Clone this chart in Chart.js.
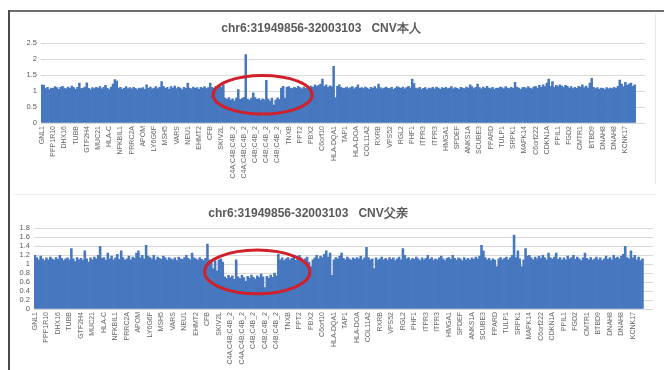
<!DOCTYPE html>
<html>
<head>
<meta charset="utf-8">
<script src="https://cdn.jsdelivr.net/npm/chart.js@4.4.1/dist/chart.umd.min.js"></script>
<style>
  html, body { margin: 0; padding: 0; background: #fff; }
  body { width: 664px; height: 370px; position: relative; overflow: hidden; }
  canvas { position: absolute; }
  .line { position: absolute; }
</style>
</head>
<body>
<canvas id="chartSelf" width="648" height="172" style="left:-3px;top:14px;"></canvas>
<canvas id="chartFather" width="690" height="174" style="left:-37px;top:196px;"></canvas>
<div class="line" style="left:8px;top:10px;width:656px;border-top:2px solid #6e6e6e;"></div>
<div class="line" style="left:8px;top:10px;height:360px;border-left:2px solid #4a4a4a;"></div>
<div class="line" style="left:14px;top:194px;width:642px;border-top:1px solid #ececec;"></div>
<div class="line" style="left:655px;top:14px;height:170px;border-left:1px solid #e6e6e6;"></div>
<script>
// gene names shown under the x axis, one label every 6 probes
const genes = ["GNL1", "PPP1R10", "DHX16", "TUBB", "GTF2H4", "MUC21", "HLA-C", "NFKBIL1", "PRRC2A",
  "APOM", "LY6G6F", "MSH5", "VARS", "NEU1", "EHMT2", "CFB", "SKIV2L", "C4A;C4B;C4B_2", "C4A;C4B;C4B_2",
  "C4B;C4B_2", "C4B;C4B_2", "C4B;C4B_2", "TNXB", "PPT2", "PBX2", "C6orf10", "HLA-DQA1", "TAP1", "HLA-DOA",
  "COL11A2", "RXRB", "VPS52", "RGL2", "PHF1", "ITPR3", "ITPR3", "HMGA1", "SPDEF", "ANKS1A", "SCUBE3",
  "PPARD", "TULP1", "SRPK1", "MAPK14", "C6orf222", "CDKN1A", "PPIL1", "FGD2", "CMTR1", "BTBD9",
  "DNAH8", "DNAH8", "KCNK17"];
const probesPerGene = 6;

// CNV 本人
const cnvSelf = [
  1.20, 1.18, 1.08, 1.12, 1.05, 1.10,  1.09, 1.14, 1.11, 1.06, 1.12, 1.15,
  1.10, 1.07, 1.13, 1.09, 1.16, 1.11,  1.06, 1.12, 1.25, 1.08, 1.10, 1.13,
  1.26, 1.09, 1.05, 1.11, 1.08, 1.12,  1.10, 1.14, 1.07, 1.12, 1.18, 1.09,
  1.05, 1.13, 1.22, 1.36, 1.32, 1.10,  1.12, 1.06, 1.09, 1.14, 1.08, 1.11,
  1.07, 1.12, 1.09, 1.05, 1.10, 1.08,  1.11, 1.06, 1.20, 1.09, 1.13, 1.07,
  1.10, 1.14, 1.08, 1.12, 1.30, 1.15,  1.09, 1.12, 1.06, 1.14, 1.10, 1.16,
  1.08, 1.13, 1.10, 1.05, 1.12, 1.09,  1.25, 1.10, 1.07, 1.13, 1.09, 1.11,
  1.06, 1.12, 1.10, 1.14, 1.08, 1.11,  1.25, 1.12, 1.09, 1.15, 1.11, 1.18,
  1.13, 1.20, 0.78, 0.74, 0.80, 0.72,  0.76, 0.70, 0.79, 1.05, 0.74, 0.77,
  0.81, 2.15, 0.75, 0.72, 0.78, 0.95,  0.80, 0.74, 0.77, 0.71, 0.76, 0.73,
  1.34, 0.75, 0.69, 0.78, 0.56, 0.72,  0.79, 0.74, 1.10, 1.15, 0.78, 1.12,
  1.14, 1.10, 1.08, 1.12, 1.09, 1.15,  1.11, 1.07, 1.13, 1.09, 1.14, 1.10,
  1.16, 1.12, 1.20, 1.15, 1.18, 1.22,  1.38, 1.15, 1.20, 1.12, 1.17, 1.14,
  1.78, 0.80, 1.15, 1.20, 1.12, 1.09,  1.10, 1.13, 1.08, 1.11, 1.14, 1.07,
  1.12, 1.20, 1.09, 1.11, 1.08, 1.13,  1.10, 1.06, 1.12, 1.09, 1.14, 1.08,
  1.22, 1.11, 1.07, 1.10, 1.13, 1.09,  1.08, 1.12, 1.06, 1.10, 1.14, 1.11,
  1.09, 1.13, 1.07, 1.11, 1.15, 1.10,  1.38, 1.24, 1.10, 1.08, 1.12, 1.06,
  1.09, 1.11, 1.05, 1.10, 1.08, 1.12,  1.07, 1.13, 1.10, 1.06, 1.11, 1.09,
  1.12, 1.08, 1.10, 1.14, 1.07, 1.11,  1.09, 1.06, 1.12, 1.10, 1.08, 1.13,
  1.10, 1.20, 1.14, 1.08, 1.12, 1.22,  1.11, 1.07, 1.13, 1.09, 1.15, 1.10,
  1.08, 1.12, 1.06, 1.10, 1.09, 1.13,  1.11, 1.07, 1.14, 1.10, 1.08, 1.12,
  1.09, 1.28, 1.13, 1.10, 1.06, 1.11,  1.12, 1.08, 1.14, 1.10, 1.07, 1.13,
  1.15, 1.10, 1.18, 1.12, 1.20, 1.14,  1.25, 1.38, 1.15, 1.30, 1.12, 1.18,
  1.14, 1.20, 1.16, 1.12, 1.18, 1.15,  1.10, 1.14, 1.08, 1.12, 1.09, 1.15,
  1.13, 1.20, 1.11, 1.16, 1.10, 1.25,  1.40, 1.12, 1.08, 1.11, 1.06, 1.10,
  1.09, 1.05, 1.11, 1.07, 1.10, 1.08,  1.12, 1.09, 1.15, 1.35, 1.22, 1.14,
  1.28, 1.18, 1.22, 1.25, 1.15, 1.20,  1.12, 1.18, 1.05, 0.98, 0.95
];

// CNV 父亲
const cnvFather = [
  1.20, 1.15, 1.10, 1.18, 1.12, 1.08,  1.14, 1.10, 1.16, 1.12, 1.09, 1.15,
  1.11, 1.20, 1.13, 1.08, 1.12, 1.14,  1.10, 1.35, 1.12, 1.06, 1.15, 1.10,
  1.13, 1.09, 1.30, 1.12, 1.05, 1.14,  1.10, 1.16, 1.12, 1.20, 1.40, 1.13,
  1.15, 1.09, 1.25, 1.12, 1.18, 1.10,  1.14, 1.22, 1.11, 1.30, 1.15, 1.09,
  1.12, 1.18, 1.10, 1.16, 1.13, 1.25,  1.30, 1.14, 1.20, 1.12, 1.42, 1.18,
  1.15, 1.12, 1.20, 1.10, 1.16, 1.13,  1.11, 1.18, 1.14, 1.09, 1.15, 1.12,
  1.10, 1.14, 1.08, 1.16, 1.12, 1.11,  1.15, 1.20, 1.13, 1.10, 1.25, 1.14,
  1.12, 1.09, 1.15, 1.11, 1.08, 1.13,  1.45, 1.10, 1.05, 0.90, 1.08, 0.85,
  1.10, 1.12, 1.05, 0.72, 0.68, 0.75,  0.70, 0.74, 0.66, 1.10, 0.72, 0.68,
  0.75, 0.70, 0.62, 0.73, 0.69, 0.76,  0.71, 0.67, 0.74, 0.70, 0.78, 0.72,
  0.48, 0.73, 0.69, 0.76, 0.71, 0.80,  0.74, 1.22, 1.10, 1.14, 1.08, 1.12,
  1.15, 1.10, 1.13, 1.18, 1.09, 1.12,  1.20, 1.14, 1.08, 1.12, 1.16, 1.05,
  0.95, 1.10, 1.14, 1.20, 1.12, 1.18,  1.15, 1.22, 1.30, 1.16, 1.25, 0.75,
  1.10, 1.15, 1.12, 1.18, 1.25, 1.13,  1.10, 1.16, 1.12, 1.09, 1.14, 1.11,
  1.15, 1.12, 1.18, 1.10, 1.14, 1.38,  1.15, 1.10, 1.12, 0.90, 1.14, 1.09,
  1.12, 1.16, 1.10, 1.13, 1.09, 1.15,  1.11, 1.14, 1.08, 1.12, 1.16, 1.10,
  1.35, 1.20, 1.12, 1.15, 1.09, 1.13,  1.11, 1.16, 1.12, 1.08, 1.14, 1.10,
  1.13, 1.20, 1.11, 1.15, 1.09, 1.12,  1.10, 1.14, 1.18, 1.12, 1.08, 1.13,
  1.15, 1.11, 1.20, 1.13, 1.09, 1.14,  1.12, 1.08, 1.15, 1.10, 1.13, 1.09,
  1.14, 1.11, 1.16, 1.12, 1.18, 1.42,  1.30, 1.15, 1.10, 1.13, 1.08, 1.12,
  1.09, 0.95, 1.12, 1.15, 1.10, 1.13,  1.16, 1.10, 1.14, 1.20, 1.65, 1.15,
  1.30, 1.12, 0.95, 1.10, 1.35, 1.18,  1.20, 1.14, 1.10, 1.16, 1.12, 1.18,
  1.13, 1.20, 1.15, 1.10, 1.25, 1.14,  1.12, 1.16, 1.25, 1.11, 1.15, 1.09,
  1.14, 1.10, 1.18, 1.12, 1.15, 1.20,  1.11, 1.16, 1.12, 1.08, 1.14, 1.25,
  1.13, 1.10, 1.15, 1.09, 1.12, 1.16,  1.10, 1.14, 1.08, 1.12, 1.18, 1.11,
  1.15, 1.10, 1.20, 1.13, 1.16, 1.12,  1.18, 1.22, 1.40, 1.15, 1.12, 1.30,
  1.14, 1.20, 1.10, 1.16, 1.08, 1.12,  1.10, 1.05, 0.95, 0.85, 0.78
];

// red ring round the deleted C4 region (probe index / value)
const ringSelf = { x0: 91.5, x1: 144.5, y0: 0.28, y1: 1.49 };
const ringFather = { x0: 88.5, x1: 143.5, y0: 0.34, y1: 1.32 };

const probeLabels = cnvSelf.map((v, i) => genes[Math.floor(i / probesPerGene)]);

const ringPlugin = {
  id: "ring",
  afterDatasetsDraw(chart, args, opts) {
    const { x, y } = chart.scales;
    const ctx = chart.ctx;
    const left = x.getPixelForValue(opts.x0), right = x.getPixelForValue(opts.x1);
    const top = y.getPixelForValue(opts.y1), bottom = y.getPixelForValue(opts.y0);
    ctx.save();
    ctx.beginPath();
    ctx.ellipse((left + right) / 2, (top + bottom) / 2, (right - left) / 2, (bottom - top) / 2, 0, 0, Math.PI * 2);
    ctx.strokeStyle = "#d0202c";
    ctx.lineWidth = 3;
    ctx.stroke();
    ctx.restore();
  }
};

function makeChart(id, title, values, yMax, yStep, yWidth, xHeight, titlePad, ring) {
  new Chart(document.getElementById(id), {
    type: "bar",
    data: {
      labels: probeLabels,
      datasets: [{
        data: values,
        backgroundColor: "#4677bf",
        borderWidth: 0,
        barPercentage: 1,
        categoryPercentage: 1
      }]
    },
    plugins: [ringPlugin],
    options: {
      responsive: false,
      animation: false,
      layout: { padding: 0 },
      plugins: {
        legend: { display: false },
        tooltip: { enabled: false },
        title: {
          display: true,
          text: title,
          color: "#595959",
          font: { family: "Liberation Sans", size: 12, weight: "bold" },
          padding: titlePad
        },
        ring: ring
      },
      scales: {
        x: {
          grid: { display: false, drawTicks: false },
          border: { color: "#d9d9d9" },
          afterFit: (s) => { s.height = xHeight; s.paddingLeft = 0; s.paddingRight = 0; },
          ticks: {
            autoSkip: false,
            maxRotation: 90,
            minRotation: 90,
            padding: 3,
            color: "#666",
            font: { family: "Liberation Sans", size: 7 },
            callback: function (value, index) {
              return index % probesPerGene === 0 ? this.getLabelForValue(value) : "";
            }
          }
        },
        y: {
          min: 0,
          max: yMax,
          grid: { color: "#d9d9d9", drawTicks: false },
          border: { display: false },
          afterFit: (s) => { s.width = yWidth; s.paddingTop = 0; s.paddingBottom = 0; },
          ticks: {
            stepSize: yStep,
            autoSkip: false,
            padding: 4,
            color: "#595959",
            font: { family: "Liberation Sans", size: 7.5 },
            callback: (v) => String(Number(v.toFixed(1)))
          }
        }
      }
    }
  });
}

makeChart("chartSelf", "chr6:31949856-32003103   CNV本人", cnvSelf, 2.5, 0.5, 44, 63, { top: 7, bottom: 8 }, ringSelf);
makeChart("chartFather", "chr6:31949856-32003103   CNV父亲", cnvFather, 1.8, 0.2, 71, 61, { top: 10, bottom: 8 }, ringFather);
</script>
</body>
</html>
